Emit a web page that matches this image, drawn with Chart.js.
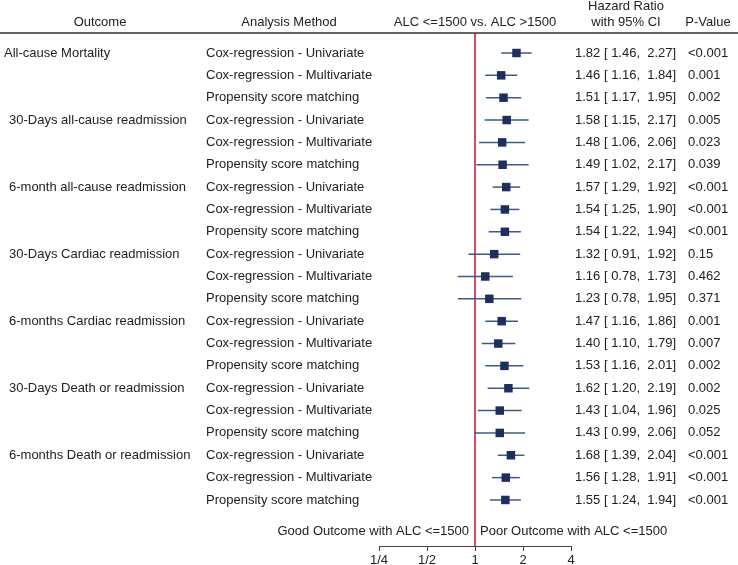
<!DOCTYPE html>
<html>
<head>
<meta charset="utf-8">
<script src="https://cdn.jsdelivr.net/npm/chart.js@4/dist/chart.umd.min.js"></script>
<style>
html,body{margin:0;padding:0;background:#fff;}
canvas{display:block;}
</style>
</head>
<body>
<canvas id="c" width="738" height="565"></canvas>
<script>
const outcomes = ["All-cause Mortality","30-Days all-cause readmission","6-month all-cause readmission","30-Days Cardiac readmission","6-months Cardiac readmission","30-Days Death or readmission","6-months Death or readmission"];
const methods = ["Cox-regression - Univariate","Cox-regression - Multivariate","Propensity score matching"];
const hr = [1.82,1.46,1.51,1.58,1.48,1.49,1.57,1.54,1.54,1.32,1.16,1.23,1.47,1.40,1.53,1.62,1.43,1.43,1.68,1.56,1.55];
const lo = [1.46,1.16,1.17,1.15,1.06,1.02,1.29,1.25,1.22,0.91,0.78,0.78,1.16,1.10,1.16,1.20,1.04,0.99,1.39,1.28,1.24];
const hi = [2.27,1.84,1.95,2.17,2.06,2.17,1.92,1.90,1.94,1.92,1.73,1.95,1.86,1.79,2.01,2.19,1.96,2.06,2.04,1.91,1.94];
const pvals = ["<0.001","0.001","0.002","0.005","0.023","0.039","<0.001","<0.001","<0.001","0.15","0.462","0.371","0.001","0.007","0.002","0.002","0.025","0.052","<0.001","<0.001","<0.001"];
const xTicks = [0.25,0.5,1,2,4];
const xTickLabels = ["1/4","1/2","1","2","4"];
const headers = {outcome:"Outcome", method:"Analysis Method", plot:"ALC <=1500 vs. ALC >1500", hr1:"Hazard Ratio", hr2:"with 95% CI", p:"P-Value"};
const footLeft = "Good Outcome with ALC <=1500";
const footRight = "Poor Outcome with ALC <=1500";

const FONT = '13px "Liberation Sans", Arial, sans-serif';
const TXT = '#222';

const fmt = v => v.toFixed(2);

const forestPlugin = {
  id: 'forest',
  beforeDatasetsDraw(chart) {
    const {ctx, scales:{x,y}, chartArea} = chart;
    ctx.save();
    const x1 = x.getPixelForValue(1);
    ctx.strokeStyle = '#c8203c';
    ctx.lineWidth = 1.6;
    ctx.beginPath();
    ctx.moveTo(x1, chartArea.top);
    ctx.lineTo(x1, chartArea.bottom);
    ctx.stroke();
    ctx.strokeStyle = '#3f5a85';
    ctx.lineWidth = 1.5;
    hr.forEach((v,i)=>{
      const py = y.getPixelForValue(i);
      ctx.beginPath();
      ctx.moveTo(x.getPixelForValue(lo[i]), py);
      ctx.lineTo(x.getPixelForValue(hi[i]), py);
      ctx.stroke();
    });
    ctx.restore();
  },
  afterDraw(chart) {
    const {ctx, scales:{x,y}, chartArea} = chart;
    ctx.save();
    ctx.font = FONT;
    ctx.fillStyle = TXT;
    ctx.textBaseline = 'middle';
    ctx.textAlign = 'center';
    ctx.fillText(headers.outcome, 100, 22);
    ctx.fillText(headers.method, 289, 22);
    ctx.fillText(headers.plot, 475, 22);
    ctx.fillText(headers.hr1, 626, 6);
    ctx.fillText(headers.hr2, 626, 22);
    ctx.fillText(headers.p, 708, 22);
    ctx.strokeStyle = '#333';
    ctx.lineWidth = 1.5;
    ctx.beginPath();
    ctx.moveTo(0, chartArea.top);
    ctx.lineTo(738, chartArea.top);
    ctx.stroke();
    ctx.textAlign = 'left';
    hr.forEach((v,i)=>{
      const py = y.getPixelForValue(i);
      if (i % 3 === 0) ctx.fillText(outcomes[i/3], i === 0 ? 4 : 9, py);
      ctx.fillText(methods[i % 3], 206, py);
      ctx.fillText(fmt(v) + ' [ ' + fmt(lo[i]) + ',  ' + fmt(hi[i]) + ']', 575, py);
      ctx.fillText(pvals[i], 688, py);
    });
    const fy = y.getPixelForValue(21.4);
    ctx.textAlign = 'right';
    ctx.fillText(footLeft, 469, fy);
    ctx.textAlign = 'left';
    ctx.fillText(footRight, 480, fy);
    ctx.restore();
  }
};

new Chart(document.getElementById('c'), {
  type: 'scatter',
  data: {
    datasets: [{
      data: hr.map((v,i)=>({x:v, y:i})),
      pointStyle: 'rect',
      radius: 6,
      hoverRadius: 6,
      backgroundColor: '#1c2f5e',
      borderWidth: 0
    }]
  },
  options: {
    responsive: false,
    animation: false,
    events: [],
    layout: {padding: {left: 379, right: 167, top: 33, bottom: 0}},
    plugins: {legend: {display: false}, tooltip: {enabled: false}},
    scales: {
      x: {
        type: 'logarithmic',
        min: 0.25, max: 4,
        afterBuildTicks: s => { s.ticks = xTicks.map(v => ({value: v})); },
        afterFit: s => { s.height = 19; },
        ticks: {
          callback: (v, i) => xTickLabels[i],
          autoSkip: false, maxRotation: 0, minRotation: 0,
          font: {family: '"Liberation Sans", Arial, sans-serif', size: 13},
          color: TXT, padding: 2
        },
        grid: {drawOnChartArea: false, drawTicks: true, tickLength: 5, color: '#444', lineWidth: 1},
        border: {display: true, color: '#444', width: 1}
      },
      y: {
        type: 'linear', reverse: true, min: -0.895, max: 22.06, display: false
      }
    }
  },
  plugins: [forestPlugin]
});
</script>
</body>
</html>
